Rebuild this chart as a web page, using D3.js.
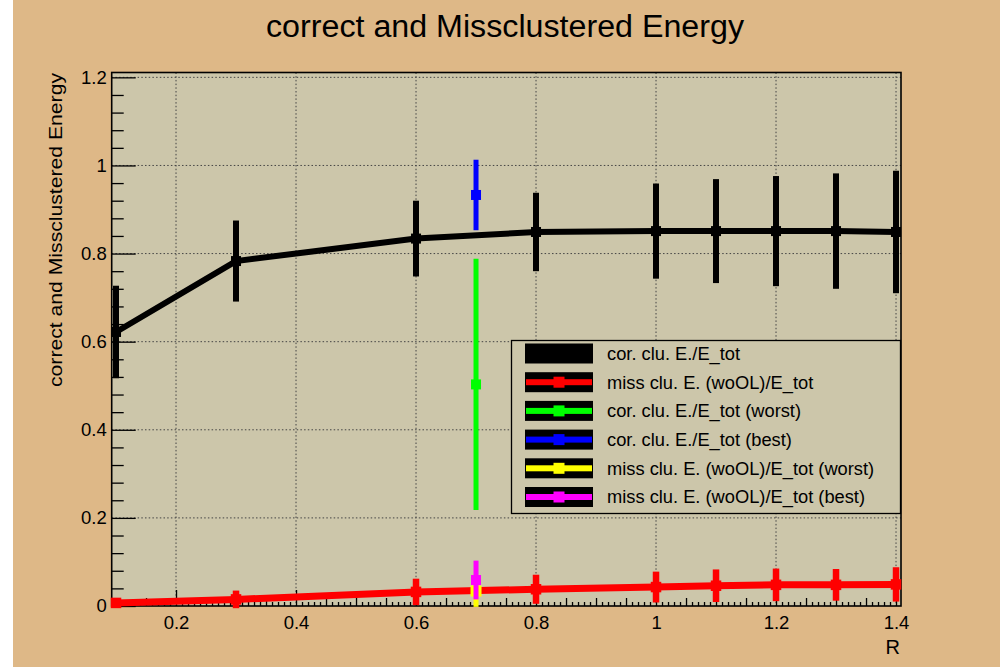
<!DOCTYPE html>
<html><head><meta charset="utf-8">
<script src="https://cdn.jsdelivr.net/npm/d3@7"></script>
<style>body{margin:0;background:#fff}svg{display:block}text{font-family:"Liberation Sans",Arial,sans-serif;fill:#000}</style>
</head><body><svg id="c" width="1000" height="667"></svg>
<script>
const titleText = "correct and Missclustered Energy";
const yTitle = "correct and Missclustered Energy";
const xTitle = "R";
const R = [0.1, 0.3, 0.6, 0.8, 1.0, 1.1, 1.2, 1.3, 1.4];
const corE = [0.622, 0.783, 0.834, 0.849, 0.851, 0.851, 0.851, 0.851, 0.849];
const corErr = [0.105, 0.092, 0.086, 0.089, 0.108, 0.118, 0.125, 0.131, 0.139];
const missE = [0.007, 0.015, 0.032, 0.038, 0.043, 0.046, 0.048, 0.048, 0.049];
const missErr = [0.008, 0.020, 0.030, 0.033, 0.035, 0.037, 0.037, 0.036, 0.039];
const Rsingle = [0.7];
const corWorst = [0.503], corWorstErr = [0.285];
const corBest = [0.933], corBestErr = [0.080];
const missWorst = [0.034], missWorstErr = [0.036];
const missBest = [0.059], missBestErr = [0.044];
const legendLabels = ["cor. clu. E./E_tot", "miss clu. E. (woOL)/E_tot", "cor. clu. E./E_tot (worst)", "cor. clu. E./E_tot (best)", "miss clu. E. (woOL)/E_tot (worst)", "miss clu. E. (woOL)/E_tot (best)"];
const xTickVals = [0.2, 0.4, 0.6, 0.8, 1.0, 1.2, 1.4];
const yTickVals = [0, 0.2, 0.4, 0.6, 0.8, 1.0, 1.2];

const svg = d3.select("#c");
const L = 111.7, Rt = 901, T = 72.5, B = 606;
const x = d3.scaleLinear().domain([0.0928, 1.4083]).range([L, Rt]);
const y = d3.scaleLinear().domain([0, 1.211]).range([B, T]);

svg.append("rect").attr("x", 13).attr("y", 0).attr("width", 987).attr("height", 667).attr("fill", "#DEB887");
svg.append("rect").attr("x", L).attr("y", T).attr("width", Rt - L).attr("height", B - T).attr("fill", "#CCC6AA");

// grid
const grid = svg.append("g").attr("stroke", "#444").attr("stroke-width", 1).attr("stroke-dasharray", "1.5,2.2");
grid.selectAll(".gx").data(xTickVals).join("line")
  .attr("x1", d => x(d)).attr("x2", d => x(d)).attr("y1", T).attr("y2", B);
grid.selectAll(".gy").data(yTickVals.filter(v => v > 0)).join("line")
  .attr("y1", d => y(d)).attr("y2", d => y(d)).attr("x1", L).attr("x2", Rt);

// axes
const fmt = d => d3.format("~g")(d);
const gy = svg.append("g").attr("transform", `translate(${L},0)`)
  .call(d3.axisLeft(y).tickValues(yTickVals).tickSize(-24).tickPadding(5).tickFormat(fmt));
const gyMinor = svg.append("g").attr("transform", `translate(${L},0)`)
  .call(d3.axisLeft(y).tickValues(d3.range(0, 1.2001, 0.04).filter(v => Math.abs(v / 0.2 - Math.round(v / 0.2)) > 1e-6)).tickSize(-12).tickFormat(""));
const gx = svg.append("g").attr("transform", `translate(0,${B})`)
  .call(d3.axisBottom(x).tickValues(xTickVals).tickSize(-16).tickPadding(10).tickFormat(fmt));
const secX = d3.range(0.1, 1.4001, 0.05).filter(v => Math.abs(v / 0.2 - Math.round(v / 0.2)) > 1e-6);
const gxMinor = svg.append("g").attr("transform", `translate(0,${B})`)
  .call(d3.axisBottom(x).tickValues(secX).tickSize(-8).tickFormat(""));
const terX = d3.range(0.1, 1.4001, 0.01).filter(v => Math.abs(v / 0.05 - Math.round(v / 0.05)) > 1e-6);
const gxTer = svg.append("g").attr("transform", `translate(0,${B})`)
  .call(d3.axisBottom(x).tickValues(terX).tickSize(-4).tickFormat(""));
[gy, gyMinor, gx, gxMinor, gxTer].forEach(g => {
  g.select(".domain").remove();
  g.selectAll("line").attr("stroke", "#000").attr("stroke-width", 1.3);
  g.selectAll("text").attr("font-size", 18.5).attr("font-family", "Liberation Sans, Arial, sans-serif").attr("fill", "#000");
});
gx.selectAll("text").attr("dy", "0.71em");

// frame
svg.append("rect").attr("x", L).attr("y", T).attr("width", Rt - L).attr("height", B - T)
  .attr("fill", "none").attr("stroke", "#000").attr("stroke-width", 1.6);

// series drawer
function series(xs, ys, es, color, opts) {
  const g = svg.append("g");
  if (opts.line) {
    g.append("path").datum(xs.map((v, i) => [v, ys[i]]))
      .attr("d", d3.line().x(d => x(d[0])).y(d => y(d[1])))
      .attr("fill", "none").attr("stroke", color).attr("stroke-width", opts.lw).attr("stroke-linejoin", "miter");
  }
  g.selectAll(".e").data(xs).join("line")
    .attr("x1", d => x(d)).attr("x2", d => x(d))
    .attr("y1", (d, i) => y(ys[i] - es[i])).attr("y2", (d, i) => y(ys[i] + es[i]))
    .attr("stroke", color).attr("stroke-width", opts.ew);
  const m = opts.ms;
  g.selectAll(".m").data(xs).join("rect")
    .attr("x", d => x(d) - m / 2).attr("y", (d, i) => y(ys[i]) - m / 2)
    .attr("width", m).attr("height", m).attr("fill", color);
}
series(R, corE, corErr, "#000", {line: true, lw: 6, ew: 6, ms: 10});
series(R, missE, missErr, "#ff0000", {line: true, lw: 7, ew: 6.5, ms: 10.5});
series(Rsingle, corWorst, corWorstErr, "#00ff00", {line: false, ew: 5, ms: 10});
series(Rsingle, corBest, corBestErr, "#0000ff", {line: false, ew: 5, ms: 10});
series(Rsingle, missWorst, missWorstErr, "#ffff00", {line: false, ew: 5, ms: 11});
series(Rsingle, missBest, missBestErr, "#ff00ff", {line: false, ew: 5, ms: 10});

// legend
const colors = ["#000", "#ff0000", "#00ff00", "#0000ff", "#ffff00", "#ff00ff"];
const lg = svg.append("g");
lg.append("rect").attr("x", 511.5).attr("y", 340.5).attr("width", 389).attr("height", 173)
  .attr("fill", "#CCC6AA").attr("stroke", "#000").attr("stroke-width", 1.3);
legendLabels.forEach((lab, i) => {
  const cy = 353.5 + i * 28.7;
  lg.append("rect").attr("x", 525).attr("y", cy - 10).attr("width", 68).attr("height", 20).attr("fill", "#000");
  if (i > 0) {
    lg.append("rect").attr("x", 526).attr("y", cy - 3).attr("width", 66).attr("height", 6).attr("fill", colors[i]);
    lg.append("rect").attr("x", 559 - 5.5).attr("y", cy - 5.5).attr("width", 11).attr("height", 11).attr("fill", colors[i]);
  }
  lg.append("text").attr("x", 607).attr("y", cy).attr("dy", "0.35em").attr("font-size", 18.3).text(lab);
});

// titles
svg.append("text").attr("x", 505).attr("y", 37).attr("text-anchor", "middle").attr("font-size", 31)
  .attr("textLength", 478).attr("lengthAdjust", "spacingAndGlyphs").text(titleText);
svg.append("text").attr("transform", "translate(62,73) rotate(-90)").attr("text-anchor", "end").attr("font-size", 18)
  .attr("textLength", 314).attr("lengthAdjust", "spacingAndGlyphs").text(yTitle);
svg.append("text").attr("x", 900).attr("y", 654).attr("text-anchor", "end").attr("font-size", 20).text(xTitle);
</script></body></html>
